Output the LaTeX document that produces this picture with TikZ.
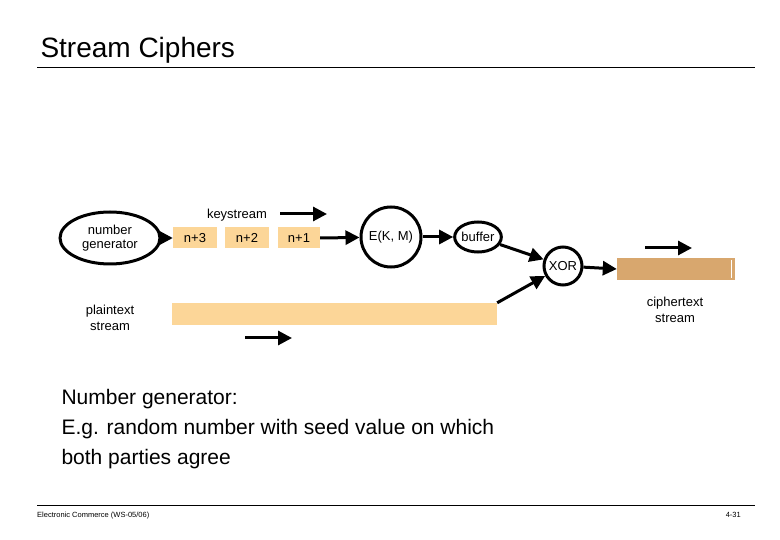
\documentclass[tikz,border=0pt]{standalone}
\usepackage{fontspec}
\setmainfont{Liberation Sans}
\usetikzlibrary{arrows.meta,shapes.geometric}
\definecolor{keyc}{HTML}{FCD698}
\definecolor{cipc}{HTML}{D8A76E}
\begin{document}
\begin{tikzpicture}[x=1pt,y=-1pt,
  arr/.style={line width=3pt,-{Triangle[length=14pt,width=14pt]}},
  circ/.style={draw,line width=3pt,circle,inner sep=0pt,font=\fontsize{13}{14}\selectfont},
  ell/.style={draw,line width=3pt,ellipse,inner sep=0pt,font=\fontsize{13}{14}\selectfont,align=center},
  kbox/.style={fill=keyc,minimum width=44pt,minimum height=21pt,font=\fontsize{13}{14}\selectfont},
  lbl/.style={font=\fontsize{13}{16}\selectfont,align=center}]
\useasboundingbox (0,0) rectangle (780,540);
\node[anchor=base west,font=\fontsize{28}{30}\selectfont] (title) at (37,58) {Stream Ciphers};
\draw[line width=0.6pt] (37,67) -- (755,67);
\node[ell,minimum width=100pt,minimum height=52pt] (gen) at (110,238) {number\\generator};
\node[kbox] (n3) at (195,238) {n+3};
\node[kbox] (n2) at (247,238) {n+2};
\node[kbox,minimum width=42pt] (n1) at (299,238) {n+1};
\node[lbl] (ks) at (237,215) {keystream};
\coordinate (ka) at (280,214); \coordinate (kb) at (327,214);
\draw[arr] (ka) -- (kb);
\node[circ,minimum size=60pt] (E) at (391,237) {E(K, M)};
\node[ell,minimum width=46pt,minimum height=30pt] (buf) at (478,237) {buffer};
\node[circ,minimum size=38pt] (xor) at (563,266) {XOR};
\node[fill=cipc,minimum width=118pt,minimum height=22pt] (cip) at (676,269) {};
\draw[white,line width=0.8pt] (731,260) -- (731,278);
\node[fill=keyc,minimum width=325pt,minimum height=22pt,inner sep=0pt] (pl) at (334.5,314) {};
\node[lbl] (ptxt) at (110,318) {plaintext\\stream};
\node[lbl] (ctxt) at (675,310) {ciphertext\\stream};
\coordinate (ca) at (645,248); \coordinate (cb) at (692,248);
\draw[arr] (ca) -- (cb);
\coordinate (pa) at (245,338); \coordinate (pb) at (292,338);
\draw[arr] (pa) -- (pb);
\draw[arr] (gen) -- (n3.west);
\draw[arr] (n1.east) -- (E);
\draw[arr] (E) -- (buf);
\draw[arr] (buf) -- (xor);
\draw[arr] (xor) -- (cip.west);
\draw[arr] (pl.north east) -- (xor);
\node[anchor=north west,align=left,font=\fontsize{21}{30}\selectfont] (body) at (58,386) {Number generator:\\E.g. random number with seed value on which\\both parties agree};
\draw[line width=0.6pt] (37,505) -- (755,505);
\node[anchor=base west,font=\fontsize{7.5}{8}\selectfont,inner sep=0pt] (foot) at (37,517) {Electronic Commerce (WS-05/06)};
\node[anchor=base east,font=\fontsize{7.5}{8}\selectfont,inner sep=0pt] (pg) at (741,517) {4-31};
\end{tikzpicture}
\end{document}
